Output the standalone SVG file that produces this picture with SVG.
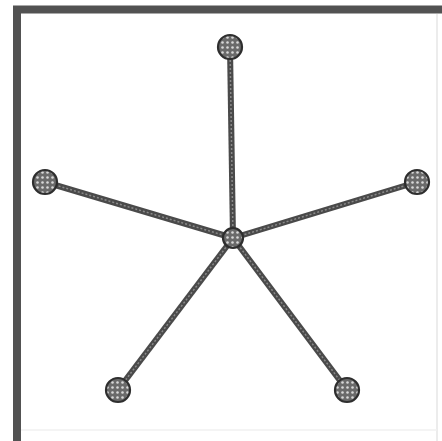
<svg xmlns="http://www.w3.org/2000/svg" width="442" height="441" viewBox="0 0 442 441">
<defs>
<pattern id="mesh" width="5" height="5" patternUnits="userSpaceOnUse">
<rect width="5" height="5" fill="#6a6a6a"/>
<circle cx="2.5" cy="2.5" r="1.3" fill="#d8d8d8"/>
</pattern>
</defs>
<style>
.edge{stroke:#4a4a4a;stroke-width:6;stroke-linecap:butt;fill:none}
.edge2{stroke:#8a8a8a;stroke-width:1.5;stroke-dasharray:2 2;fill:none}
.node{fill:url(#mesh);stroke:#2e2e2e;stroke-width:2.2}
</style>
<rect x="0" y="0" width="442" height="441" fill="#ffffff"/>
<path d="M17 441 V9.5 H442" fill="none" stroke="#525252" stroke-width="8"/>
<line x1="437" y1="14" x2="437" y2="441" stroke="#e6e6e6" stroke-width="1.5"/>
<line x1="21" y1="430" x2="437" y2="430" stroke="#f0f0f0" stroke-width="1.5"/>
<g id="connectors">
<line class="edge" x1="233" y1="238" x2="230" y2="47"/>
<line class="edge" x1="233" y1="238" x2="45" y2="182"/>
<line class="edge" x1="233" y1="238" x2="417" y2="182"/>
<line class="edge" x1="233" y1="238" x2="118" y2="390"/>
<line class="edge" x1="233" y1="238" x2="347" y2="390"/>
<line class="edge2" x1="233" y1="238" x2="230" y2="47"/>
<line class="edge2" x1="233" y1="238" x2="45" y2="182"/>
<line class="edge2" x1="233" y1="238" x2="417" y2="182"/>
<line class="edge2" x1="233" y1="238" x2="118" y2="390"/>
<line class="edge2" x1="233" y1="238" x2="347" y2="390"/>
</g>
<g id="n-center"><circle class="node" cx="233" cy="238" r="10"/></g>
<g id="n-top"><circle class="node" cx="230" cy="47" r="12"/></g>
<g id="n-left"><circle class="node" cx="45" cy="182" r="12"/></g>
<g id="n-right"><circle class="node" cx="417" cy="182" r="12"/></g>
<g id="n-bottom-left"><circle class="node" cx="118" cy="390" r="12"/></g>
<g id="n-bottom-right"><circle class="node" cx="347" cy="390" r="12"/></g>
</svg>
